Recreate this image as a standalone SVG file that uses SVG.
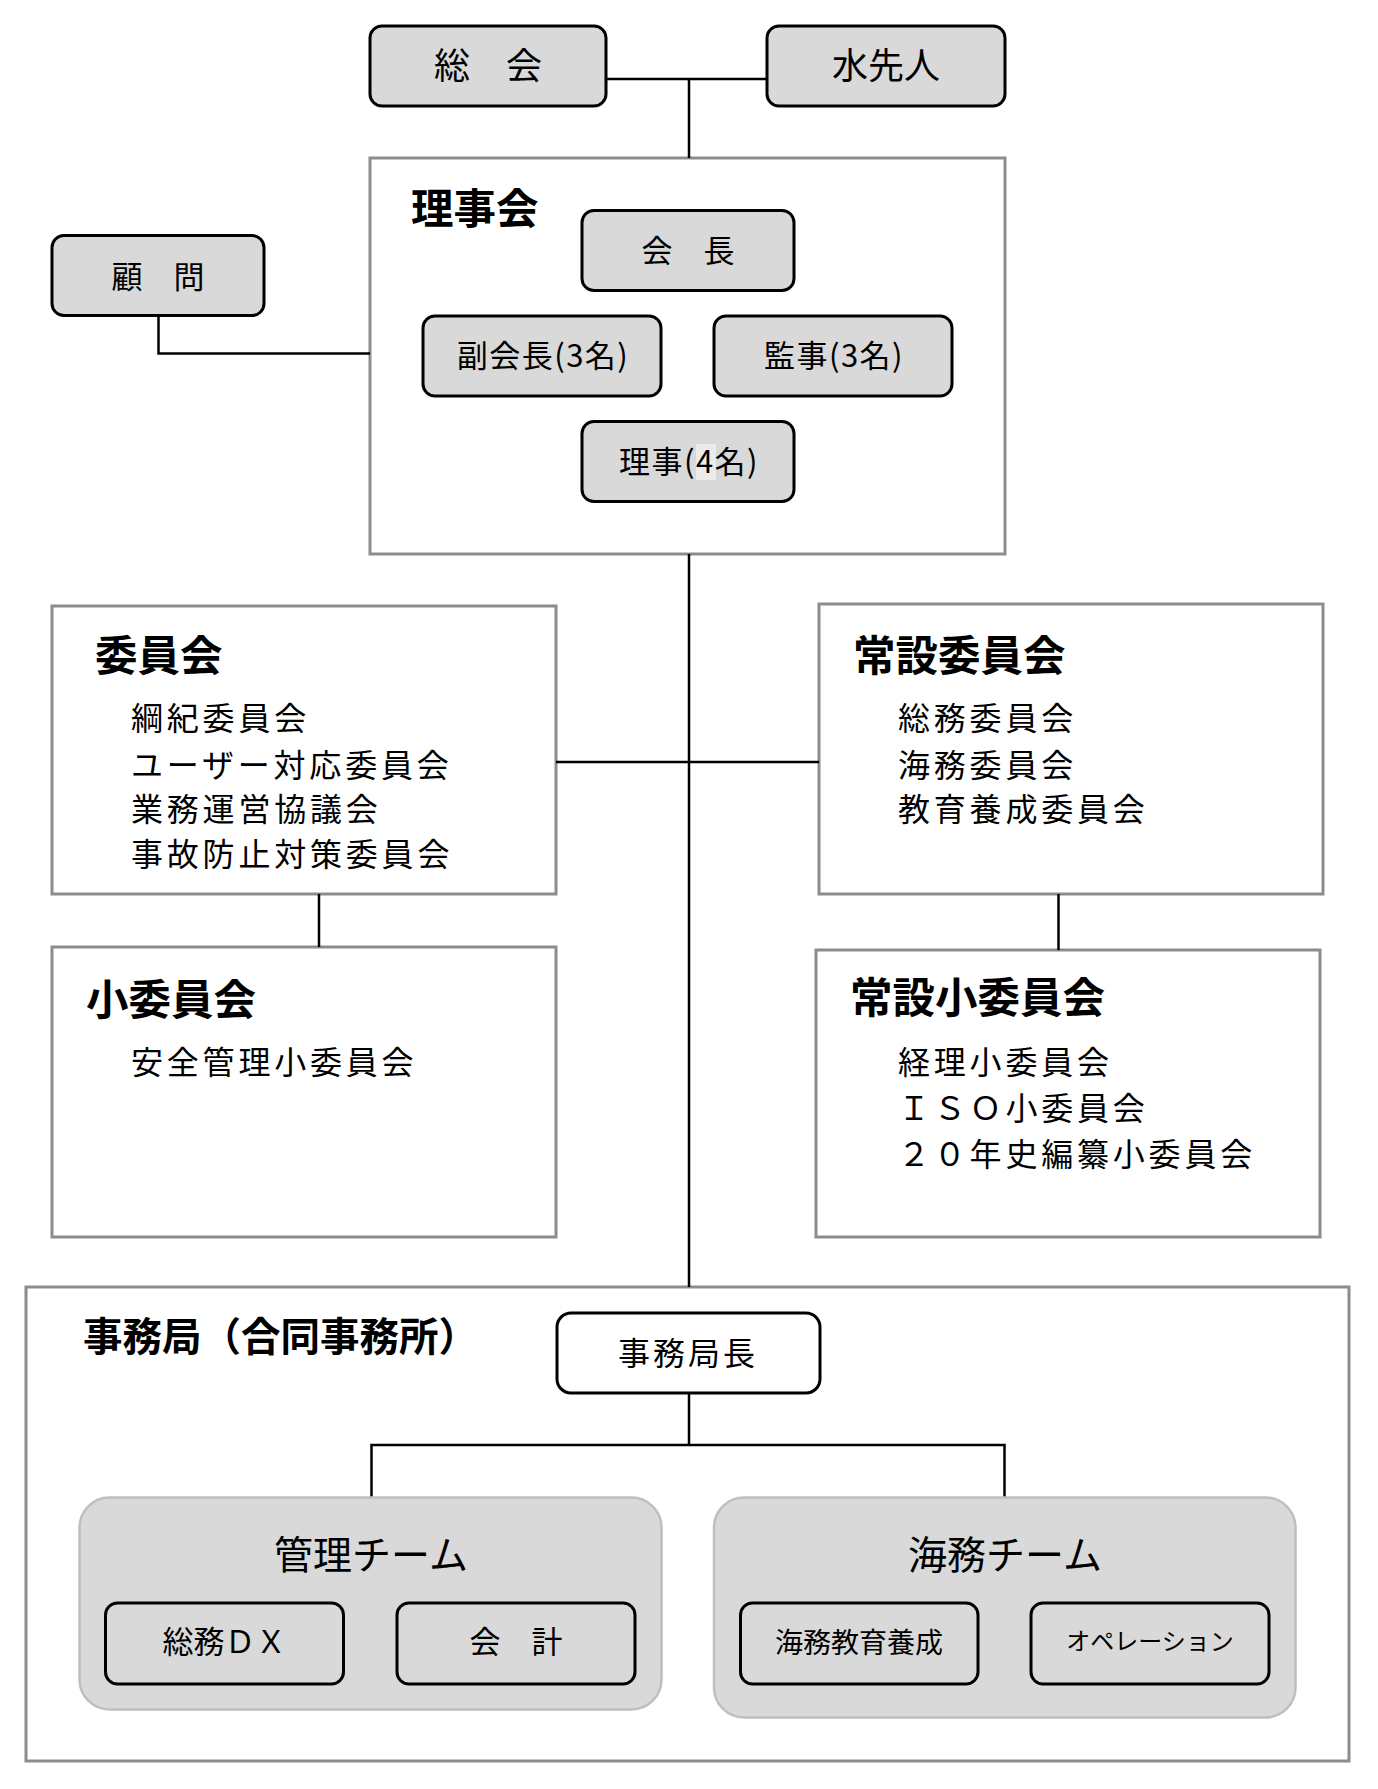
<svg xmlns="http://www.w3.org/2000/svg" width="1378" height="1789" viewBox="0 0 1378 1789">
<style>
text{font-family:"Noto Sans CJK JP","Noto Sans CJK SC",sans-serif;fill:#000}
.box{fill:#d9d9d9;stroke:#000;stroke-width:3}
.wbox{fill:#fff;stroke:#000;stroke-width:3}
.frame{fill:#fff;stroke:#8c8c8c;stroke-width:3}
.panel{fill:#d9d9d9;stroke:#bfbfbf;stroke-width:2.5}
.conn{fill:none;stroke:#000;stroke-width:2.5}
.c{text-anchor:middle}
.title{font-weight:bold;font-size:42.5px}
.list{font-size:32px;letter-spacing:3.8px}
.n31{font-size:31px}
.ls{letter-spacing:1.5px}
</style>
<rect width="1378" height="1789" fill="#fff"/>

<g id="frame-rijikai"><rect class="frame" x="370" y="158" width="635" height="396"/><text class="title" x="411" y="224">理事会</text></g>
<g id="frame-iinkai"><rect class="frame" x="52" y="606" width="504" height="288"/>
<text class="title" x="95" y="671">委員会</text>
<text class="list" x="131" y="730">綱紀委員会</text>
<text class="list" x="131" y="777">ユーザー対応委員会</text>
<text class="list" x="131" y="821">業務運営協議会</text>
<text class="list" x="131" y="866">事故防止対策委員会</text></g>
<g id="frame-josetsu"><rect class="frame" x="819" y="604" width="504" height="290"/>
<text class="title" x="853" y="671">常設委員会</text>
<text class="list" x="898" y="730">総務委員会</text>
<text class="list" x="898" y="777">海務委員会</text>
<text class="list" x="898" y="821">教育養成委員会</text></g>
<g id="frame-shoiinkai"><rect class="frame" x="52" y="947" width="504" height="290"/>
<text class="title" x="86" y="1015">小委員会</text>
<text class="list" x="131" y="1074">安全管理小委員会</text></g>
<g id="frame-josetsusho"><rect class="frame" x="816" y="950" width="504" height="287"/>
<text class="title" x="850" y="1013">常設小委員会</text>
<text class="list" x="898" y="1074">経理小委員会</text>
<text class="list" x="898" y="1120">ＩＳＯ小委員会</text>
<text class="list" x="898" y="1166">２０年史編纂小委員会</text></g>
<g id="frame-jimukyoku"><rect class="frame" x="26" y="1287" width="1323" height="474"/>
<text x="83" y="1351" style="font-weight:bold;font-size:39.5px">事務局（合同事務所）</text></g>

<g id="connectors">
<path class="conn" d="M607 79H767M689 79V158"/>
<path class="conn" d="M158.5 315.5V353.5H370"/>
<path class="conn" d="M689 554V1287"/>
<path class="conn" d="M556 762H819"/>
<path class="conn" d="M319 894V947"/>
<path class="conn" d="M1058.5 894V950"/>
<path class="conn" d="M689 1393V1445M371.5 1497V1445H1004.5V1497"/>
</g>

<g id="sokai"><rect class="box" x="370" y="26" width="236" height="80" rx="12"/><text class="c" x="488" y="79" font-size="36">総　会</text></g>
<g id="mizusakinin"><rect class="box" x="767" y="26" width="238" height="80" rx="12"/><text class="c" x="886" y="79" font-size="36">水先人</text></g>
<g id="komon"><rect class="box" x="52" y="235.5" width="212" height="80" rx="12"/><text class="c n31" x="158" y="287.5">顧　問</text></g>
<g id="kaicho"><rect class="box" x="582" y="210.5" width="212" height="80" rx="12"/><text class="c n31" x="688" y="262">会　長</text></g>
<g id="fukukaicho"><rect class="box" x="423" y="316" width="238" height="80" rx="12"/><text class="c n31 ls" x="543" y="367">副会長(3名)</text></g>
<g id="kanji"><rect class="box" x="714" y="316" width="238" height="80" rx="12"/><text class="c n31 ls" x="834" y="367">監事(3名)</text></g>
<g id="riji"><rect class="box" x="582" y="421.5" width="212" height="80" rx="12"/><rect x="696" y="444" width="20" height="36" fill="#ebebeb"/><text class="c n31 ls" x="689" y="472.5">理事(4名)</text></g>

<g id="jimukyokucho"><rect class="wbox" x="557" y="1313" width="263" height="80" rx="14"/><text x="618" y="1365" style="font-size:32px;letter-spacing:3px">事務局長</text></g>

<g id="kanri-team"><rect class="panel" x="79.5" y="1497.5" width="582" height="212" rx="30"/><text class="c" x="371" y="1569" font-size="39">管理チーム</text>
<g id="somu-dx"><rect class="box" x="105.5" y="1603" width="238" height="81" rx="12"/><text class="c n31" x="224.5" y="1653">総務ＤＸ</text></g>
<g id="kaikei"><rect class="box" x="397" y="1603" width="238" height="81" rx="12"/><text class="c n31" x="516" y="1653">会　計</text></g></g>

<g id="kaimu-team"><rect class="panel" x="714" y="1497.5" width="581.5" height="220" rx="30"/><text class="c" x="1005" y="1569" font-size="39">海務チーム</text>
<g id="kaimu-kyoiku"><rect class="box" x="740.5" y="1603" width="237.5" height="81" rx="12"/><text class="c" x="859" y="1653" font-size="28">海務教育養成</text></g>
<g id="operation"><rect class="box" x="1031" y="1603" width="238" height="81" rx="12"/><text class="c" x="1150" y="1650" font-size="24">オペレーション</text></g></g>
</svg>
